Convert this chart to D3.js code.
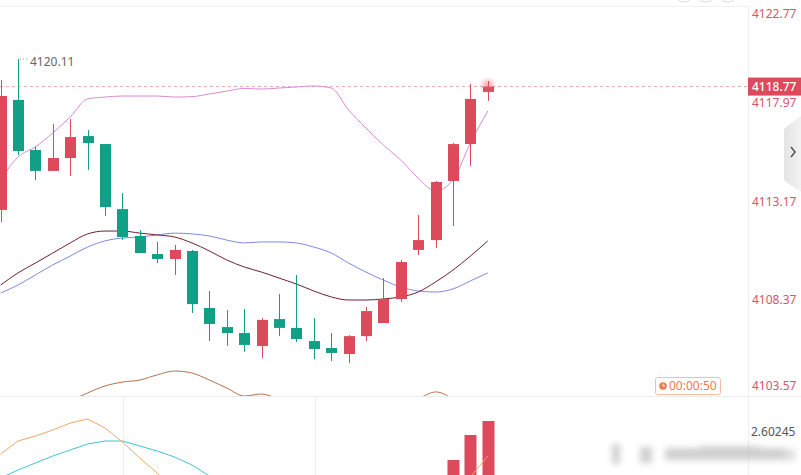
<!DOCTYPE html>
<html><head><meta charset="utf-8">
<script src="https://cdn.jsdelivr.net/npm/d3@7"></script>
<style>
html,body{margin:0;padding:0;background:#fff;}
svg{display:block;font-family:"Noto Sans","Open Sans",sans-serif;}
</style></head>
<body><svg id="c" width="801" height="475"></svg>
<script>
// ---- data ----
const candleIndex = [0,1,2,3,4,5,6,7,8,9,10,11,12,13,14,15,16,17,18,19,20,21,22,23,24,25,26,27,28];
const openP  = [4112.76,4118.12,4115.68,4114.66,4115.29,4116.36,4115.97,4112.80,4111.49,4110.61,4110.37,4110.76,4107.98,4107.05,4106.76,4106.13,4107.44,4107.01,4106.37,4106.03,4105.74,4106.61,4107.25,4108.42,4110.81,4111.29,4114.17,4115.97,4118.51];
const highP  = [4119.09,4120.11,4115.83,4116.95,4117.19,4116.65,4115.97,4113.58,4111.78,4111.20,4111.05,4110.81,4108.81,4107.88,4107.93,4107.49,4108.66,4109.59,4107.49,4106.76,4106.66,4108.03,4109.44,4110.32,4112.51,4114.17,4116.02,4118.90,4119.04];
const lowP   = [4112.17,4115.44,4114.22,4114.66,4114.41,4114.71,4112.46,4111.29,4110.66,4110.17,4109.59,4107.74,4106.37,4106.13,4105.84,4105.54,4106.61,4106.32,4105.49,4105.40,4105.30,4106.37,4107.25,4108.27,4110.56,4110.90,4111.98,4114.90,4118.07];
const closeP = [4118.31,4115.63,4114.66,4115.29,4116.31,4116.02,4112.90,4111.44,4110.66,4110.37,4110.81,4108.17,4107.20,4106.76,4106.18,4107.40,4107.01,4106.47,4105.98,4105.79,4106.61,4107.83,4108.42,4110.22,4111.29,4114.12,4115.97,4118.17,4118.77];
const bandUpper = [4114.22,4115.34,4115.83,4116.51,4117.29,4118.17,4118.26,4118.31,4118.31,4118.31,4118.26,4118.28,4118.41,4118.55,4118.68,4118.65,4118.70,4118.75,4118.80,4118.70,4117.63,4116.75,4115.92,4115.19,4114.31,4113.68,4114.22,4116.02,4117.58];
const maSlow = [4109.10,4109.69,4110.17,4110.66,4111.15,4111.59,4111.73,4111.73,4111.63,4111.54,4111.44,4111.15,4110.76,4110.32,4109.98,4109.73,4109.44,4109.15,4108.81,4108.52,4108.37,4108.37,4108.42,4108.52,4108.76,4109.25,4109.83,4110.51,4111.25];
const maMid  = [4108.71,4109.10,4109.59,4110.08,4110.51,4110.95,4111.25,4111.39,4111.44,4111.54,4111.63,4111.59,4111.49,4111.29,4111.15,4111.20,4111.20,4111.15,4110.95,4110.66,4110.17,4109.73,4109.34,4109.00,4108.81,4108.76,4108.91,4109.30,4109.69];
const bandLower = [4101.55,4102.03,4102.52,4103.01,4103.45,4103.84,4104.18,4104.37,4104.47,4104.72,4104.91,4104.81,4104.47,4104.08,4103.69,4103.79,4103.50,4103.01,4102.52,4102.52,4102.77,4103.01,4103.25,4103.50,4103.59,4103.89,4103.50,4102.52,4101.55];
const indFast = [1.952,2.336,2.484,2.662,2.868,2.987,2.721,2.307,1.834,1.390,0.887,0.50,0.20,0.00,-0.10,-0.20,-0.20,-0.10,0.00,0.10,0.20,0.30,0.40,0.60,0.80,0.90,1.00,1.272,1.893];
const indSlow = [1.242,1.479,1.686,1.893,2.070,2.248,2.336,2.336,2.188,2.040,1.863,1.626,1.301,1.00,0.70,0.50,0.30,0.20,0.10,0.00,-0.10,-0.10,0.00,0.10,0.20,0.30,0.40,0.50,0.60];
const indHist = [0,0,0,0,0,0,0,0,0,0,0,0,0,0,0,0,0,0,0,0,0,0,0,0,0,0,1.774,2.514,2.928];
const priceTicks = [4122.77,4117.97,4113.17,4108.37,4103.57];
const lastPrice = 4118.77;
const highLabel = 4120.11;
const indTick = 2.60245;
const timerText = "00:00:50";

// ---- layout ----
const W = 801, H = 475, plotR = 748, paneB = 396;
const svg = d3.select("#c");
const RED = "#dc4a5b", GREEN = "#11a085";

const x = d3.scaleLinear().domain([0, 28]).range([0.6, 487.8]);
const y = d3.scaleLinear().domain([4103.57, 4122.77]).range([398.5, 4.5]);
const yi = d3.scaleLinear().domain([0, indTick]).range([520, 432]);
const bodyW = 11;

const defs = svg.append("defs");
defs.append("clipPath").attr("id","mainClip").append("rect").attr("x",0).attr("y",7).attr("width",plotR).attr("height",paneB-7);
defs.append("clipPath").attr("id","lowClip").append("rect").attr("x",0).attr("y",paneB+1).attr("width",plotR).attr("height",H-paneB-1);
const glow = defs.append("radialGradient").attr("id","glow");
glow.append("stop").attr("offset","0%").attr("stop-color","#e85a6c").attr("stop-opacity",0.55);
glow.append("stop").attr("offset","100%").attr("stop-color","#e85a6c").attr("stop-opacity",0);
defs.append("filter").attr("id","blur").attr("x","-20%").attr("y","-50%").attr("width","140%").attr("height","200%")
  .append("feGaussianBlur").attr("stdDeviation",3);
const tabG = defs.append("linearGradient").attr("id","tabG").attr("x1","0").attr("x2","1");
tabG.append("stop").attr("offset","0%").attr("stop-color","#e4e4e4");
tabG.append("stop").attr("offset","100%").attr("stop-color","#f2f2f2");

// frame lines
svg.append("line").attr("x1",0).attr("x2",plotR).attr("y1",6.5).attr("y2",6.5).attr("stroke","#f0f0f0");
svg.append("line").attr("x1",0).attr("x2",W).attr("y1",paneB+0.5).attr("y2",paneB+0.5).attr("stroke","#ececec");
svg.append("line").attr("x1",plotR+0.5).attr("x2",plotR+0.5).attr("y1",6).attr("y2",H).attr("stroke","#efefef");
[123.5, 315.5].forEach(gx => svg.append("line").attr("x1",gx).attr("x2",gx).attr("y1",paneB+1).attr("y2",H).attr("stroke","#f0f0f0"));

// toolbar remnants at top right
[684, 706, 728].forEach(cx => svg.append("circle").attr("cx",cx).attr("cy",-8).attr("r",10).attr("fill","none").attr("stroke","#dcdcdc"));

const main = svg.append("g").attr("clip-path","url(#mainClip)");

// last price dashed line
main.append("line").attr("x1",0).attr("x2",plotR).attr("y1",y(lastPrice)).attr("y2",y(lastPrice))
  .attr("stroke","#e9a7b1").attr("stroke-dasharray","3,3");

// indicator lines in main pane
const mkLine = (vals, sc) => d3.line().x((d,i)=>x(candleIndex[i])).y(d=>sc(d)).curve(d3.curveMonotoneX)(vals);
main.append("path").attr("d",mkLine(bandLower,y)).attr("fill","none").attr("stroke","#b4724a").attr("stroke-width",1);
main.append("path").attr("d",mkLine(maMid,y)).attr("fill","none").attr("stroke","#7f88e6").attr("stroke-width",1);
main.append("path").attr("d",mkLine(maSlow,y)).attr("fill","none").attr("stroke","#6e1f33").attr("stroke-width",1);
main.append("path").attr("d",mkLine(bandUpper,y)).attr("fill","none").attr("stroke","#d88cd3").attr("stroke-width",1);

// candles
const cg = main.selectAll("g.cd").data(candleIndex).join("g").attr("class","cd");
cg.append("line")
  .attr("x1",i=>Math.round(x(i))+0.5).attr("x2",i=>Math.round(x(i))+0.5)
  .attr("y1",i=>y(highP[i])).attr("y2",i=>y(lowP[i]))
  .attr("stroke",i=>closeP[i]>=openP[i]?RED:GREEN).attr("stroke-width",1);
cg.append("rect")
  .attr("x",i=>Math.round(x(i))+0.5-bodyW/2)
  .attr("y",i=>y(Math.max(openP[i],closeP[i])))
  .attr("width",bodyW)
  .attr("height",i=>Math.max(1,Math.abs(y(openP[i])-y(closeP[i]))))
  .attr("fill",i=>closeP[i]>=openP[i]?RED:GREEN);

// glow on last candle
main.append("circle").attr("cx",x(28)).attr("cy",y(lastPrice)-1).attr("r",9).attr("fill","url(#glow)");

// high label
main.append("line").attr("x1",20).attr("x2",29).attr("y1",y(highLabel)).attr("y2",y(highLabel))
  .attr("stroke","#999").attr("stroke-dasharray","1,2");
main.append("text").attr("x",30).attr("y",y(highLabel)+3).attr("dy","0.32em").attr("font-size",12).attr("fill","#666").text(highLabel.toFixed(2));

// lower pane
const low = svg.append("g").attr("clip-path","url(#lowClip)");
low.selectAll("rect").data(candleIndex.filter(i=>indHist[i]>0)).join("rect")
  .attr("x",i=>Math.round(x(i))+0.5-6).attr("width",12)
  .attr("y",i=>yi(indHist[i])).attr("height",i=>yi(0)-yi(indHist[i])).attr("fill",RED);
low.append("path").attr("d",d3.line().x((d,i)=>x(candleIndex[i])).y(d=>yi(d))(indSlow)).attr("fill","none").attr("stroke","#3cc6cf").attr("stroke-width",1);
low.append("path").attr("d",d3.line().x((d,i)=>x(candleIndex[i])).y(d=>yi(d))(indFast)).attr("fill","none").attr("stroke","#f3a66a").attr("stroke-width",1);

// right price axis
const axis = d3.axisRight(y).tickValues(priceTicks).tickSize(0).tickPadding(0).tickFormat(d3.format(".2f"));
const ag = svg.append("g").attr("transform",`translate(${plotR+4},0)`).call(axis);
ag.select(".domain").remove();
ag.selectAll("text").attr("font-size",12).attr("fill","#d5566a").attr("font-family","Noto Sans, Open Sans, sans-serif")
  .attr("y",d=>Math.min(386,Math.max(14,y(d)))-y(d));

// last price box
svg.append("rect").attr("x",plotR).attr("y",y(lastPrice)-9).attr("width",W-plotR).attr("height",18).attr("fill","#dc4a5b");
svg.append("text").attr("x",plotR+4).attr("y",y(lastPrice)).attr("dy","0.35em").attr("font-size",12).attr("fill","#fff").attr("font-weight",500).text(lastPrice.toFixed(2));

// indicator axis label
svg.append("text").attr("x",plotR+3).attr("y",yi(indTick)).attr("dy","0.35em").attr("font-size",12).attr("fill","#555").text(indTick.toFixed(5));

// blurred watermark
const bl = svg.append("g").attr("filter","url(#blur)").attr("opacity",0.55);
[[612,444,8,20],[640,447,12,16],[665,448,120,12],[700,446,60,8],[765,450,30,4],[765,456,30,4]].forEach(r=>
  bl.append("rect").attr("x",r[0]).attr("y",r[1]).attr("width",r[2]).attr("height",r[3]).attr("fill","#aaa"));

// timer badge
svg.append("rect").attr("x",655.5).attr("y",377.5).attr("width",65).attr("height",17).attr("rx",2)
  .attr("fill","#fff").attr("stroke","#f4bda6");
svg.append("circle").attr("cx",663).attr("cy",386).attr("r",3.8).attr("fill","#f07a4a");
svg.append("path").attr("d","M663,383.6 V386 H665").attr("stroke","#fff").attr("stroke-width",1).attr("fill","none");
svg.append("text").attr("x",669).attr("y",386).attr("dy","0.35em").attr("font-size",12).attr("fill","#f07a4a").text(timerText);

// side tab
svg.append("path").attr("d","M801,116 L786,127 Q784,128 784,131 L784,178 Q784,181 786,182 L801,192 Z")
  .attr("fill","url(#tabG)");
svg.append("path").attr("d","M791,147 L795,152 L791,157").attr("fill","none").attr("stroke","#555").attr("stroke-width",1.5);
</script>
</body></html>
